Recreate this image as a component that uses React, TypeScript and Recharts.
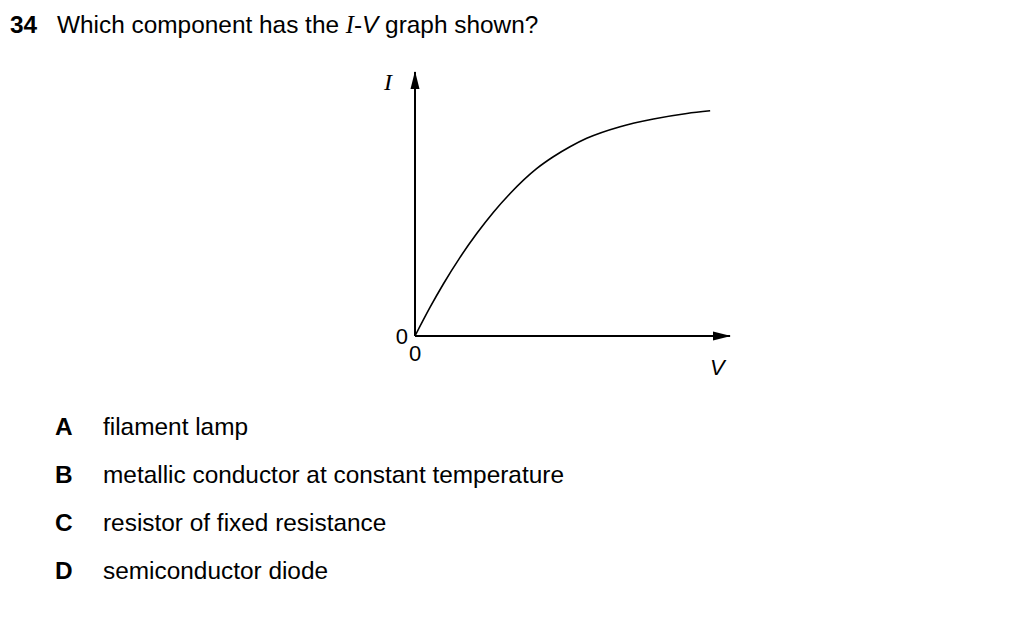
import React from 'react';
import { LineChart, Line, XAxis, YAxis } from 'recharts';

// (V and I in arbitrary units, 0-100 across the axes)
const voltage = [0, 4.8, 9.0, 14.3, 19.6, 24.9, 30.2, 38.6, 43.9, 49.2, 54.5, 65.1, 75.7, 86.3, 93.7];
const current = [0, 10.9, 19.7, 29.8, 38.8, 46.9, 54.0, 63.4, 67.9, 71.7, 74.9, 79.3, 82.2, 84.3, 85.3];
const axisTicks = [0];

const optionLetters = ['A', 'B', 'C', 'D'];
const optionTexts = [
	'filament lamp',
	'metallic conductor at constant temperature',
	'resistor of fixed resistance',
	'semiconductor diode',
];

const data = voltage.map((v, i) => ({ v, i: current[i] }));

const FONT = '"Liberation Sans", Arial, Helvetica, sans-serif';

export default function App() {
	return (
		<div
			style={{
				position: 'absolute',
				left: 0,
				top: 0,
				width: 1024,
				height: 623,
				background: '#fff',
				fontFamily: FONT,
				color: '#000',
				overflow: 'hidden',
			}}
		>
			{/* question */}
			<div style={{ position: 'absolute', left: 10, top: 11, fontSize: 24.4, lineHeight: '28px', whiteSpace: 'nowrap' }}>
				<span style={{ fontWeight: 'bold' }}>34</span>
				<span style={{ position: 'absolute', left: 47 }}>
					Which component has the{' '}
					<span style={{ fontFamily: '"Liberation Serif", serif', fontStyle: 'italic' }}>I</span>-
					<span style={{ fontStyle: 'italic' }}>V</span> graph shown?
				</span>
			</div>

			<LineChart
				width={1024}
				height={623}
				data={data}
				margin={{ top: 72, left: 385, right: 294, bottom: 257 }}
				style={{ position: 'absolute', left: 0, top: 0 }}
			>
				<defs>
					<marker id="arrow" viewBox="0 0 18 10" refX="17" refY="5" markerWidth="18" markerHeight="10" markerUnits="userSpaceOnUse" orient="auto-start-reverse">
						<path d="M0,0.5 L18,5 L0,9.5 z" fill="#000" />
					</marker>
				</defs>
				<XAxis
					type="number"
					dataKey="v"
					domain={[0, 100]}
					ticks={axisTicks}
					height={30}
					tickLine={false}
					tickSize={0}
					tickMargin={9}
					axisLine={{ stroke: '#000', strokeWidth: 2, markerEnd: 'url(#arrow)' }}
					tick={{ fill: '#000', fontSize: 22, fontFamily: FONT }}
				/>
				<YAxis
					type="number"
					dataKey="i"
					domain={[0, 100]}
					ticks={axisTicks}
					width={30}
					tickLine={false}
					tickSize={0}
					tickMargin={7}
					axisLine={{ stroke: '#000', strokeWidth: 2, markerStart: 'url(#arrow)' }}
					tick={{ fill: '#000', fontSize: 22, fontFamily: FONT }}
				/>
				<Line
					type="monotone"
					dataKey="i"
					stroke="#000"
					strokeWidth={1.6}
					dot={false}
					isAnimationActive={false}
				/>
			</LineChart>

			{/* axis names */}
			<span
				style={{
					position: 'absolute',
					left: 384,
					top: 70,
					fontSize: 24,
					lineHeight: '24px',
					fontFamily: '"Liberation Serif", serif',
					fontStyle: 'italic',
				}}
			>
				I
			</span>
			<span style={{ position: 'absolute', left: 710, top: 357, fontSize: 22, lineHeight: '22px', fontStyle: 'italic' }}>
				V
			</span>

			{/* options */}
			{optionLetters.map((letter, k) => (
				<div
					key={letter}
					style={{ position: 'absolute', left: 55, top: 413 + k * 48, fontSize: 24.4, lineHeight: '28px', whiteSpace: 'nowrap' }}
				>
					<span style={{ fontWeight: 'bold' }}>{letter}</span>
					<span style={{ position: 'absolute', left: 48 }}>{optionTexts[k]}</span>
				</div>
			))}
		</div>
	);
}
